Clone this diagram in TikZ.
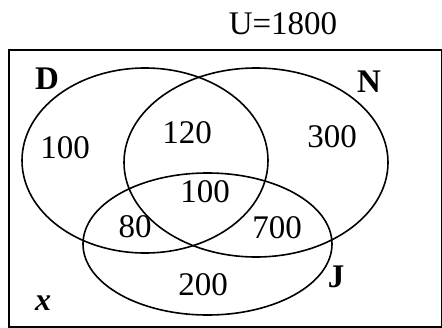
\documentclass[tikz,border=0pt]{standalone}
\usepackage{fontspec}
\setmainfont{Liberation Serif}
\usetikzlibrary{shapes.geometric}
\begin{document}
\begin{tikzpicture}[x=1pt,y=-1pt,
  setellipse/.style={draw, ellipse, line width=1.6pt, inner sep=0pt},
  num/.style={font=\fontsize{33}{33}\selectfont, inner sep=0pt},
  setlabel/.style={font=\fontsize{33}{33}\selectfont\bfseries, inner sep=0pt}]
\useasboundingbox (0,0) rectangle (442,327);
\node (box) [draw, line width=1.8pt, minimum width=433pt, minimum height=277pt, inner sep=0pt, anchor=north west] at (8,49) {};
\node (D) [setellipse, minimum width=246pt, minimum height=185pt] at (145,160.5) {};
\node (N) [setellipse, minimum width=264pt, minimum height=189pt] at (256,162.5) {};
\node (J) [setellipse, minimum width=249pt, minimum height=142pt] at (207.5,244) {};
\node (U) [num] at (283,24) {U=1800};
\node (lD) [setlabel] at (47,79) {D};
\node (lN) [setlabel] at (369,82) {N};
\node (lJ) [setlabel] at (336,277) {J};
\node (lx) [setlabel, font=\fontsize{32}{32}\selectfont\bfseries\itshape] at (43,303) {x};
\node (n1) [num] at (65,148) {100};
\node (n2) [num] at (187,133) {120};
\node (n3) [num] at (332,137) {300};
\node (n4) [num] at (205,192) {100};
\node (n5) [num] at (135,227) {80};
\node (n6) [num] at (277,228) {700};
\node (n7) [num] at (203,285) {200};
\end{tikzpicture}
\end{document}
